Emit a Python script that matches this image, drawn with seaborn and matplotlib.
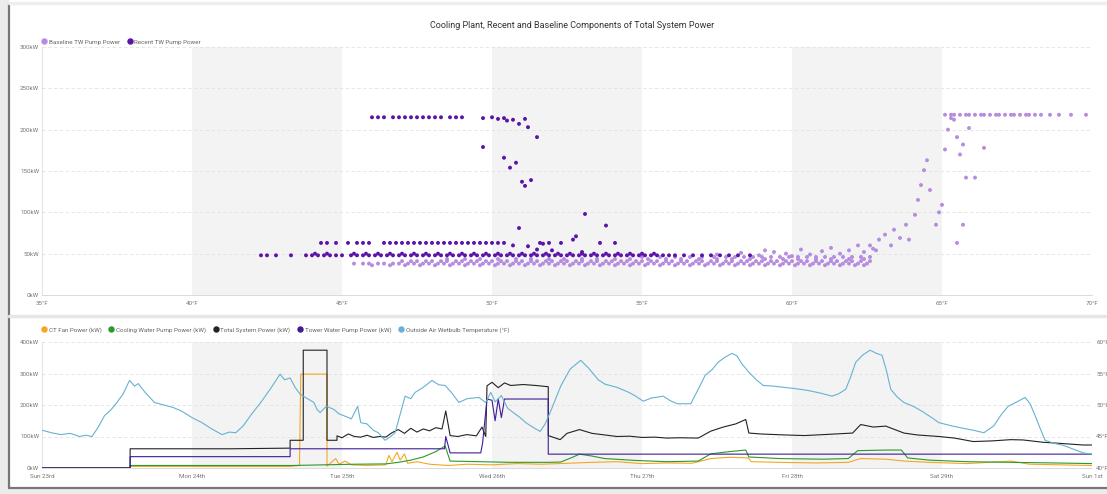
import numpy as np
import pandas as pd
import matplotlib
matplotlib.use("Agg")
import matplotlib.pyplot as plt
import seaborn as sns
from matplotlib.lines import Line2D
from matplotlib.patches import Rectangle

sns.set_style("white")
plt.rcParams['font.family'] = ['Roboto', 'DejaVu Sans']

# ---------------- data: top scatter (temperature °F vs kW) ----------------
recent_row48_temp = [42.3, 42.5, 42.8, 43.3, 43.8, 44.0, 44.2, 44.4, 44.6, 44.8, 45.0, 45.3, 45.5, 45.7,
                     45.9, 46.1, 46.3, 46.5, 46.7, 46.9, 47.1, 47.3, 47.5, 47.7, 47.9, 48.1, 48.3, 48.5,
                     48.7, 48.9, 49.1, 49.3, 49.5, 49.7, 49.9, 50.1, 50.3, 50.5, 50.7, 50.9, 51.1, 51.3,
                     51.5, 51.7, 51.9, 52.1, 52.3, 52.5, 52.7, 52.9, 53.1, 53.3, 53.5, 53.7, 53.9, 54.1,
                     54.3, 54.5, 54.7, 54.9, 55.1, 55.3, 55.5, 55.7, 55.9, 56.1, 56.4, 56.7, 57.0, 57.3,
                     57.6, 57.9, 58.2, 58.6]
recent_row48_kw = 48
recent_row50_temp = [44.1, 44.5, 45.4, 45.8, 46.2, 46.6, 47.0, 47.4, 47.8, 48.2, 48.6, 49.0, 49.4, 49.8,
                     50.2, 50.6, 51.0, 51.4, 51.8, 52.2, 52.6, 53.0, 53.4, 53.8, 54.2, 54.6, 55.0, 55.4]
recent_row50_kw = 50
recent_row63_temp = [44.3, 44.5, 44.8, 45.2, 45.5, 45.7, 45.9, 46.4, 46.6, 46.8, 47.0, 47.2, 47.4, 47.6,
                     47.8, 48.0, 48.2, 48.4, 48.6, 48.8, 49.0, 49.2, 49.4, 49.6, 49.8, 50.0, 50.2, 50.4,
                     51.6, 51.9, 52.3, 53.6, 54.1]
recent_row63_kw = 63
recent_top_temp = [46.0, 46.2, 46.4, 46.7, 46.9, 47.1, 47.3, 47.5, 47.7, 47.9, 48.1, 48.3, 48.6, 48.8, 49.0]
recent_top_kw = 215
recent_misc_temp = [49.7, 50.0, 50.2, 50.4, 50.5, 50.7, 50.9, 51.1, 51.2, 49.7, 51.5, 50.4, 50.6, 50.8,
                    51.0, 51.1, 51.3, 50.9, 50.7, 51.2, 51.7, 52.7, 52.8, 53.1, 53.8, 51.5, 52.0, 53.0]
recent_misc_kw = [214, 215, 213, 214, 211, 212, 207, 213, 203, 179, 191, 166, 154, 160,
                  137, 132, 139, 81, 60, 59, 62, 67, 71, 98, 84, 55, 54, 52]

base_row36_temp = [46.0, 46.6, 47.1, 47.6, 48.1, 48.6, 49.1, 49.6, 50.1, 50.6, 51.1, 51.6, 52.1, 52.6,
                   53.1, 53.6, 54.1, 54.6, 55.1, 55.6, 56.1, 56.6, 57.1, 57.6, 58.1, 58.6, 59.1, 59.6,
                   60.1, 60.6, 61.1, 61.6, 62.1, 62.4]
base_row36_kw = 36
base_row38_temp = [45.4, 45.7, 45.9, 46.2, 46.4, 46.7, 46.9, 47.2, 47.4, 47.7, 47.9, 48.2, 48.4, 48.7,
                   48.9, 49.2, 49.4, 49.7, 49.9, 50.2, 50.4, 50.7, 50.9, 51.2, 51.4, 51.7, 51.9, 52.2,
                   52.4, 52.7, 52.9, 53.2, 53.4, 53.7, 53.9, 54.2, 54.4, 54.7, 54.9, 55.2, 55.4, 55.7,
                   55.9, 56.2, 56.4, 56.7, 56.9, 57.2, 57.4, 57.7, 57.9, 58.2, 58.4, 58.7, 58.9, 59.2,
                   59.4, 59.7, 59.9, 60.2, 60.4, 60.7, 60.9, 61.2, 61.4, 61.7, 61.9, 62.2, 62.5]
base_row38_kw = 38
base_row41_temp = [47.0, 47.3, 47.5, 47.8, 48.0, 48.3, 48.5, 48.8, 49.0, 49.3, 49.5, 49.8, 50.0, 50.3,
                   50.5, 50.8, 51.0, 51.3, 51.5, 51.8, 52.0, 52.3, 52.5, 52.8, 53.0, 53.3, 53.5, 53.8,
                   54.0, 54.3, 54.5, 54.8, 55.0, 55.3, 55.5, 55.8, 56.0, 56.3, 56.5, 56.8, 57.0, 57.3,
                   57.5, 57.8, 58.0, 58.3, 58.5, 58.8, 59.0, 59.3, 59.5, 59.8, 60.0, 60.3, 60.5, 60.8,
                   61.0, 61.3, 61.5, 61.8, 62.0, 62.3, 62.6]
base_row41_kw = 41
base_row43_temp = [48.5, 49.1, 49.6, 50.2, 50.8, 51.3, 51.9, 52.4, 53.0, 53.5, 54.1, 54.6, 55.2, 55.8,
                   56.3, 56.9, 57.5, 58.0, 58.6, 59.1, 59.7, 60.2, 60.8, 61.3, 61.9, 62.4]
base_row43_kw = 43.5
base_row45_temp = [55.0, 55.6, 56.1, 56.6, 57.0, 57.4, 57.8, 58.1, 58.4, 58.7, 59.0, 59.3, 59.6, 59.9,
                   60.2, 60.5, 60.8, 61.1, 61.4, 61.7, 62.0, 62.3, 62.6]
base_row45_kw = 46
base_misc_temp = [57.5, 58.3, 58.9, 59.4, 59.8, 60.3, 60.6, 61.0, 61.3, 61.6, 61.9, 62.2, 62.4, 62.7,
                  60.0, 59.1, 62.6, 62.8, 62.9, 63.1, 63.3, 63.4, 63.6, 63.8, 63.9, 64.1, 64.2, 64.3,
                  64.4, 64.5, 64.6, 64.8, 64.9, 65.0, 65.1, 65.2, 65.3, 65.4, 65.5, 65.6, 65.7, 65.9,
                  66.4, 65.5, 65.7, 65.8, 66.1]
base_misc_kw = [49, 51, 48, 52, 50, 55, 49, 53, 57, 50, 54, 60, 52, 56,
                47, 54, 60, 54, 67, 73, 60, 79, 69, 85, 67, 97, 115, 133,
                151, 163, 127, 85, 100, 109, 176, 200, 214, 212, 191, 170, 182, 202,
                178, 63, 85, 142, 142]
base_plateau_temp = [65.1, 65.3, 65.4, 65.6, 65.8, 65.9, 66.1, 66.3, 66.4, 66.6, 66.8, 66.9, 67.1, 67.3,
                     67.4, 67.6, 67.8, 67.9, 68.1, 68.3, 68.6, 68.9, 69.3, 69.8]
base_plateau_kw = 218

temp_ticks = [35, 40, 45, 50, 55, 60, 65, 70]
kw_ticks_top = [0, 50, 100, 150, 200, 250, 300]

# ---------------- data: bottom time series (hours since Sun 23rd 00:00) ----------------
wetbulb_h = [0, 1.5, 3, 4.5, 6, 7, 8, 9, 10, 11, 12, 13, 14, 14.8, 15.4, 16.5, 18, 19.5, 21, 22.4, 24,
             25.6, 27, 28.8, 30, 31, 32.2, 33.5, 35, 36.5, 38.1, 38.8, 39.7, 40.5, 41.3, 42.5, 43.5, 44,
             44.5, 45.5, 46.7, 47.5, 48.3, 49.5, 50.5, 51, 52, 53, 53.8, 54.9, 55.8, 56.5, 57.3, 58.1,
             59, 59.7, 61, 62.4, 63.5, 64.5, 65.5, 66.7, 68, 69.9, 71, 71.8, 72.5, 73.5, 74.5, 75.4,
             76.5, 77.4, 78.5, 79.7, 80.5, 81.3, 82.2, 83, 84.5, 86.2, 87.5, 89, 90.1, 92, 93.9, 95,
             96.2, 97.5, 99.4, 100.5, 101.6, 103.8, 105, 106.1, 107.2, 108.2, 109.3, 110.4, 111.2, 112,
             113.1, 114.3, 115.4, 117, 118.7, 120.5, 122.6, 124.5, 126.4, 127.5, 128.6, 129.4, 130.2,
             131.4, 132.5, 133.5, 134.4, 135.1, 135.8, 136.8, 137.9, 139.4, 140.8, 142.2, 143.5, 145.5,
             147.4, 149, 150.7, 152.3, 153.5, 154.6, 156, 157.3, 158.1, 158.9, 159.7, 160.5, 162, 163.4,
             165, 166.6, 168]
wetbulb_f = [46.0, 45.6, 45.3, 45.5, 45.0, 45.2, 45.0, 46.5, 48.3, 49.2, 50.4, 51.8, 53.9, 53.0, 53.4,
             52.0, 50.4, 50.0, 49.6, 49.0, 48.0, 47.2, 46.3, 45.3, 45.7, 45.6, 46.7, 48.5, 50.4, 52.5,
             54.9, 54.0, 54.3, 52.8, 51.7, 51.0, 50.4, 49.3, 48.8, 49.8, 49.3, 48.6, 48.3, 47.8, 49.8,
             47.2, 47.0, 46.0, 45.6, 44.4, 45.0, 45.6, 48.5, 51.4, 51.0, 52.0, 52.8, 53.9, 53.2, 53.1,
             52.0, 50.4, 51.0, 51.2, 50.4, 52.0, 50.5, 51.5, 49.5, 48.8, 48.0, 47.2, 46.5, 45.8, 47.0,
             48.8, 51.0, 53.0, 55.7, 57.1, 55.8, 54.0, 53.3, 52.8, 52.0, 51.4, 50.6, 51.1, 51.4, 50.7,
             50.2, 50.2, 52.5, 54.7, 55.6, 56.8, 57.6, 58.2, 57.8, 56.5, 55.2, 54.0, 53.1, 53.0, 52.8,
             52.6, 52.3, 51.9, 51.4, 51.8, 52.5, 54.5, 56.8, 58.0, 58.7, 58.2, 57.9, 55.5, 52.5, 51.3,
             50.4, 49.8, 49.0, 48.1, 47.2, 46.7, 46.3, 46.0, 45.6, 46.7, 48.5, 49.8, 50.5, 51.2, 50.2,
             48.3, 46.3, 44.4, 43.9, 43.6, 43.0, 42.4, 42.2]

total_h = [0, 14.1, 14.1, 30, 39.5, 39.7, 39.7, 41.8, 41.8, 45.6, 45.6, 47.2, 47.2, 48, 49, 50, 51, 52,
           53, 54, 55, 56, 57, 58, 59, 60, 61, 62, 63, 64, 64.6, 65.3, 66.5, 68, 69.5, 70.4, 71, 71.2,
           72, 73, 74, 75, 77, 79, 81, 81, 82.9, 84, 86, 88, 90, 92, 94, 96, 98, 100, 102, 105, 107,
           109, 111, 112.6, 113.1, 115, 118.7, 122, 126, 129.7, 131, 133, 135, 137.9, 140, 143.5, 146,
           149, 152, 155, 157, 160, 163, 166.6, 168]
total_kw = [0, 0, 61, 61, 63, 63, 88, 88, 374, 374, 88, 88, 102, 96, 108, 100, 98, 104, 97, 100, 98,
            112, 122, 110, 126, 114, 124, 118, 128, 124, 181, 103, 100, 106, 102, 130, 100, 261, 272,
            255, 270, 262, 265, 262, 258, 103, 90, 110, 122, 110, 105, 100, 101, 97, 98, 95, 96, 95,
            117, 130, 140, 154, 111, 108, 105, 103, 107, 111, 138, 130, 133, 111, 105, 100, 95, 84, 86,
            90, 89, 82, 78, 73, 73]

tower_h = [0, 14.1, 14.1, 39.7, 39.7, 64.4, 64.6, 65.3, 70.2, 70.5, 71.2, 72, 72.5, 73, 73.5, 74, 81, 81, 168]
tower_kw = [0, 0, 36, 36, 61, 61, 100, 48, 48, 80, 219, 215, 150, 219, 160, 219, 219, 44, 44]

cooling_h = [0, 14.1, 14.1, 40, 45, 50, 55, 57, 59, 61, 63, 64.5, 65.3, 70, 75, 81, 83, 85, 86, 88, 90,
             95, 100, 105, 107, 110, 112.6, 113.1, 118, 125, 129, 130.5, 135, 137.5, 138.5, 142, 148,
             155, 162, 168]
cooling_kw = [0, 0, 8, 8, 10, 12, 13, 18, 25, 35, 52, 70, 22, 20, 18, 18, 19, 35, 44, 38, 30, 24, 20,
              22, 45, 52, 57, 35, 30, 28, 30, 55, 57, 57, 32, 25, 20, 18, 16, 14]

ctfan_h = [0, 14.1, 14.1, 39.7, 41.2, 41.4, 45.6, 45.6, 47, 47.5, 48.5, 49.5, 52, 55, 55.5, 56, 56.8,
           57.3, 58, 58.5, 60, 62, 65, 68, 72, 76, 80, 84, 88, 92, 96, 100, 104, 107, 110, 113, 113.5,
           118, 124, 129, 131, 135, 138, 142, 148, 155, 158, 163, 168]
ctfan_kw = [0, 0, 5, 5, 8, 298, 298, 6, 30, 12, 22, 10, 8, 10, 40, 20, 50, 25, 45, 15, 20, 12, 8, 12,
            10, 14, 12, 15, 18, 20, 14, 16, 15, 30, 34, 32, 20, 18, 16, 18, 30, 28, 22, 18, 14, 22, 12,
            10, 8]

day_ticks_h = [0, 24, 48, 72, 96, 120, 144, 168]
day_labels = ["Sun 23rd", "Mon 24th", "Tue 25th", "Wed 26th", "Thu 27th", "Fri 28th", "Sat 29th", "Sun 1st"]
kw_ticks_bottom = [0, 100, 200, 300, 400]
wb_ticks = [40, 45, 50, 55, 60]

# ---------------- colours ----------------
c_base = "#b68be0"
c_recent = "#5c14a8"
c_ct = "#f5a623"
c_cw = "#2a9a2a"
c_total = "#222222"
c_tower = "#3f1c98"
c_wb = "#66b2d2"

# ---------------- figure ----------------
W, H = 1107, 494
fig = plt.figure(figsize=(W / 100, H / 100), dpi=100)
fig.patch.set_facecolor("white")

# card frame
fig.add_artist(Rectangle((0, 0), 8 / W, 1, transform=fig.transFigure, color="#ececec", zorder=-5))
fig.add_artist(Rectangle((0, 0), 1, 6 / H, transform=fig.transFigure, color="#ececec", zorder=-5))
fig.add_artist(Line2D([9 / W, 9 / W], [6 / H, 1 - 4 / H], transform=fig.transFigure, color="#777777", lw=1.6))
fig.add_artist(Line2D([9 / W, 1], [6 / H, 6 / H], transform=fig.transFigure, color="#777777", lw=1.6))
fig.add_artist(Line2D([9 / W, 1], [1 - 316 / H, 1 - 316 / H], transform=fig.transFigure, color="#e6e6e6", lw=2.5))
fig.add_artist(Line2D([9 / W, 1], [1 - 3 / H, 1 - 3 / H], transform=fig.transFigure, color="#eeeeee", lw=2.5))

fig.text(572 / W, 1 - 25 / H, "Cooling Plant, Recent and Baseline Components of Total System Power",
         ha="center", va="center", fontsize=6.5, color="#333333")

tick_kw = dict(labelsize=4.5, labelcolor="#777777", color="#cccccc", length=2.5, width=0.5, pad=2)

# ---- top panel ----
ax1 = fig.add_axes([42 / W, 1 - 295 / H, 1050 / W, 248 / H])
rows = []
for temps, kw in [(base_row36_temp, base_row36_kw), (base_row38_temp, base_row38_kw),
                  (base_row41_temp, base_row41_kw), (base_row43_temp, base_row43_kw),
                  (base_row45_temp, base_row45_kw), (base_plateau_temp, base_plateau_kw)]:
    for t in temps:
        rows.append((t, kw, "Baseline TW Pump Power"))
for t, k in zip(base_misc_temp, base_misc_kw):
    rows.append((t, k, "Baseline TW Pump Power"))
for temps, kw in [(recent_row48_temp, recent_row48_kw), (recent_row50_temp, recent_row50_kw),
                  (recent_row63_temp, recent_row63_kw), (recent_top_temp, recent_top_kw)]:
    for t in temps:
        rows.append((t, kw, "Recent TW Pump Power"))
for t, k in zip(recent_misc_temp, recent_misc_kw):
    rows.append((t, k, "Recent TW Pump Power"))
scatter_df = pd.DataFrame(rows, columns=["temp", "kw", "series"])

for a, b in [(40, 45), (50, 55), (60, 65)]:
    ax1.axvspan(a, b, color="#f3f3f3", zorder=0, lw=0)
sns.scatterplot(data=scatter_df, x="temp", y="kw", hue="series",
                palette={"Baseline TW Pump Power": c_base, "Recent TW Pump Power": c_recent},
                s=8, linewidth=0, legend=False, ax=ax1, zorder=3)
ax1.set_xlim(35, 70)
ax1.set_ylim(0, 300)
ax1.set_xticks(temp_ticks)
ax1.set_xticklabels([f"{t}°F" for t in temp_ticks])
ax1.set_yticks(kw_ticks_top)
ax1.set_yticklabels([f"{k}kW" for k in kw_ticks_top])
ax1.set_xlabel("")
ax1.set_ylabel("")
ax1.yaxis.grid(True, color="#e2e2e2", lw=0.6, ls=(0, (4, 3)))
ax1.set_axisbelow(True)
ax1.tick_params(axis="both", **tick_kw)
ax1.tick_params(axis="y", length=0)
for s in ["top", "right"]:
    ax1.spines[s].set_visible(False)
ax1.spines["left"].set_color("#dddddd")
ax1.spines["bottom"].set_color("#d5d5d5")
ax1.spines["left"].set_linewidth(0.6)
ax1.spines["bottom"].set_linewidth(0.6)

h1 = [Line2D([], [], marker="o", ls="", color=c_base, markersize=3.6, label="Baseline TW Pump Power"),
      Line2D([], [], marker="o", ls="", color=c_recent, markersize=3.6, label="Recent TW Pump Power")]
leg1 = fig.legend(handles=h1, loc="center left", bbox_to_anchor=(42 / W, 1 - 42 / H), ncol=2,
                  frameon=False, fontsize=4.5, handlelength=0.7, handletextpad=0.4, columnspacing=1.2,
                  borderpad=0, borderaxespad=0)
for t in leg1.get_texts():
    t.set_color("#666666")

# ---- bottom panel ----
ax2 = fig.add_axes([42 / W, 1 - 468 / H, 1050 / W, 126 / H])
for a, b in [(24, 48), (72, 96), (120, 144)]:
    ax2.axvspan(a, b, color="#f3f3f3", zorder=0, lw=0)

series = [("CT Fan Power (kW)", ctfan_h, ctfan_kw, c_ct),
          ("Cooling Water Pump Power (kW)", cooling_h, cooling_kw, c_cw),
          ("Total System Power (kW)", total_h, total_kw, c_total),
          ("Tower Water Pump Power (kW)", tower_h, tower_kw, c_tower)]
for name, hh, vv, col in series:
    d = pd.DataFrame({"h": hh, "v": vv})
    sns.lineplot(data=d, x="h", y="v", estimator=None, sort=False, color=col, lw=0.8, ax=ax2, zorder=3)

ax2.set_xlim(0, 168)
ax2.set_ylim(0, 400)
ax2.set_xticks(day_ticks_h)
ax2.set_xticklabels(day_labels)
ax2.set_yticks(kw_ticks_bottom)
ax2.set_yticklabels([f"{k}kW" for k in kw_ticks_bottom])
ax2.set_xlabel("")
ax2.set_ylabel("")
ax2.yaxis.grid(True, color="#e2e2e2", lw=0.6, ls=(0, (4, 3)))
ax2.set_axisbelow(True)
ax2.tick_params(axis="both", **tick_kw)
ax2.tick_params(axis="y", length=0)
for s in ["top", "right"]:
    ax2.spines[s].set_visible(False)
ax2.spines["left"].set_color("#dddddd")
ax2.spines["bottom"].set_color("#d5d5d5")
ax2.spines["left"].set_linewidth(0.6)
ax2.spines["bottom"].set_linewidth(0.6)

ax2t = ax2.twinx()
dwb = pd.DataFrame({"h": wetbulb_h, "f": wetbulb_f})
sns.lineplot(data=dwb, x="h", y="f", estimator=None, sort=False, color=c_wb, lw=0.8, ax=ax2t)
ax2t.set_ylim(40, 60)
ax2t.set_yticks(wb_ticks)
ax2t.set_yticklabels([f"{t}°F" for t in wb_ticks])
ax2t.set_ylabel("")
ax2t.tick_params(axis="y", labelsize=4.5, labelcolor="#777777", length=0, pad=3)
for s in ["top", "right", "left", "bottom"]:
    ax2t.spines[s].set_visible(False)

h2 = [Line2D([], [], marker="o", ls="", color=c, markersize=3.6, label=n) for n, _, _, c in series]
h2.append(Line2D([], [], marker="o", ls="", color=c_wb, markersize=3.6, label="Outside Air Wetbulb Temperature (°F)"))
leg2 = fig.legend(handles=h2, loc="center left", bbox_to_anchor=(42 / W, 1 - 330 / H), ncol=5,
                  frameon=False, fontsize=4.5, handlelength=0.7, handletextpad=0.4, columnspacing=1.2,
                  borderpad=0, borderaxespad=0)
for t in leg2.get_texts():
    t.set_color("#666666")

fig.savefig("out.png", dpi=100, facecolor="white")
